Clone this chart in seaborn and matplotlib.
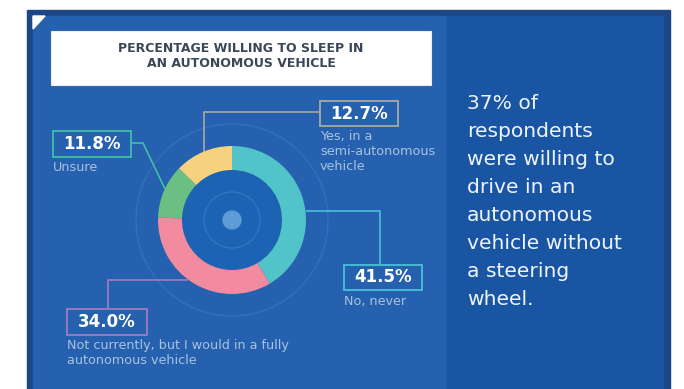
import matplotlib
matplotlib.use("Agg")
import matplotlib.pyplot as plt
from matplotlib.patches import Rectangle, Polygon, Circle
import seaborn as sns

# Survey answers, in clockwise order starting at 12 o'clock
categories = ["No, never",
              "Not currently, but I would in a fully\nautonomous vehicle",
              "Unsure",
              "Yes, in a\nsemi-autonomous\nvehicle"]
values = [41.5, 34.0, 11.8, 12.7]
seg_colors = sns.color_palette(["#52c4c9", "#f28aa0", "#6cbf83", "#f4d27e"])
line_colors = ["#47c2d4", "#a07cc0", "#3fc0a6", "#a9aaa0"]

title = "PERCENTAGE WILLING TO SLEEP IN\nAN AUTONOMOUS VEHICLE"
side_note = ("37% of\nrespondents\nwere willing to\ndrive in an\nautonomous\n"
             "vehicle without\na steering\nwheel.")

W, H = 684, 389
sns.set_theme(style="white")
plt.rcParams["font.family"] = ["DejaVu Sans"]

fig = plt.figure(figsize=(W / 100, H / 100), dpi=100)
fig.patch.set_facecolor("white")
ax = fig.add_axes([0, 0, 1, 1])


def Y(y):
    return H - y


# Donut (pie with a hole), centred in pixel space
cx, cy, r_out, ring = 232, 220, 74, 24
ax.pie(values, colors=seg_colors, startangle=90, counterclock=False,
       radius=r_out, center=(cx, Y(cy)),
       wedgeprops=dict(width=ring, linewidth=0, zorder=5))

ax.set_xlim(0, W)
ax.set_ylim(0, H)
ax.set_aspect("equal")
ax.axis("off")

# Panels and frame
ax.add_patch(Rectangle((27, 0), 643, Y(10), color="#1b4786", zorder=0))
ax.add_patch(Rectangle((33, 0), 414, Y(16), color="#2561ae", zorder=1))
ax.add_patch(Rectangle((447, 0), 216, Y(16), color="#1a55a4", zorder=1))
ax.add_patch(Polygon([(33, Y(16)), (45, Y(16)), (33, Y(29))],
                     color="white", zorder=2))

# Title box
ax.add_patch(Rectangle((51, Y(85)), 380, 54, facecolor="white",
                       edgecolor="#e8eef5", lw=0.8, zorder=3))
ax.text(241, Y(56), title, ha="center", va="center", fontsize=9.0,
        fontweight="bold", color="#3a4757", linespacing=1.2, zorder=4)

# Decorative rings and centre
ax.add_patch(Circle((cx, Y(cy)), 96, fill=False, ec="#3470b8", lw=1.0, zorder=2))
ax.add_patch(Circle((cx, Y(cy)), r_out - ring, color="#1c63b3", zorder=3))
ax.add_patch(Circle((cx, Y(cy)), 28, fill=False, ec="#3375bf", lw=1.0, zorder=4))
ax.add_patch(Circle((cx, Y(cy)), 9, color="#5f9bd6", zorder=4))

# Callouts: leader line path, box (x0, y0, x1, y1), label top-left
callouts = [
    dict(path=[(306, 211), (380, 211), (380, 265)],
         box=(344, 265, 422, 290), text=(344, 295)),
    dict(path=[(188, 280), (108, 280), (108, 309)],
         box=(67, 309, 147, 335), text=(67, 339)),
    dict(path=[(165, 189), (143, 143), (131, 143)],
         box=(53, 131, 131, 157), text=(53, 161)),
    dict(path=[(204, 153), (204, 112), (320, 112)],
         box=(320, 101, 398, 126), text=(320, 130)),
]

for val, cat, lc, c in zip(values, categories, line_colors, callouts):
    xs = [p[0] for p in c["path"]]
    ys = [Y(p[1]) for p in c["path"]]
    ax.plot(xs, ys, color=lc, lw=1.2, zorder=3, solid_capstyle="butt")
    x0, y0, x1, y1 = c["box"]
    ax.add_patch(Rectangle((x0, Y(y1)), x1 - x0, y1 - y0, facecolor="#2561ae",
                           edgecolor=lc, lw=1.3, zorder=6))
    ax.text((x0 + x1) / 2, Y((y0 + y1) / 2), f"{val:.1f}%", ha="center",
            va="center", fontsize=12, fontweight="bold", color="white", zorder=7)
    tx, ty = c["text"]
    ax.text(tx, Y(ty), cat, ha="left", va="top", fontsize=9.2, color="#a9c2df",
            linespacing=1.2, zorder=7)

# Side note
ax.text(467, Y(94), side_note, ha="left", va="top", fontsize=14.6,
        color="#eef4fb", linespacing=1.6, zorder=7)

fig.savefig("out.png", dpi=100, facecolor="white")
